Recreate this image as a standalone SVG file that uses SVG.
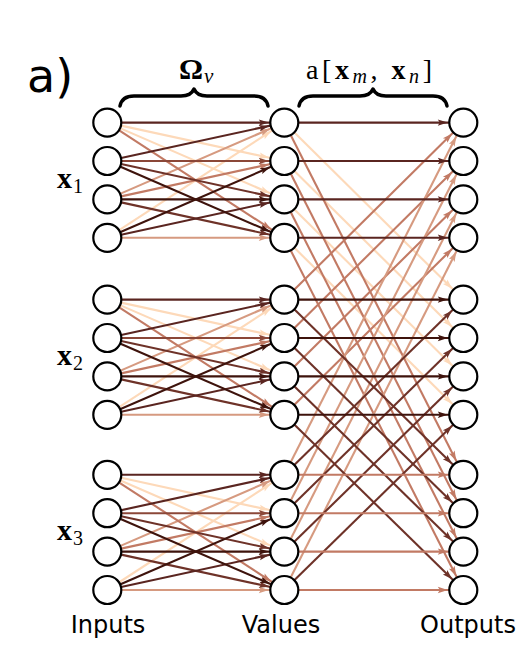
<svg xmlns="http://www.w3.org/2000/svg" width="527" height="664" viewBox="0 0 527 664">
<style>
.e{stroke-width:2.1;fill:none}
.c1{stroke:#3e130c;marker-end:url(#m1)}
.c2{stroke:#5a2520;marker-end:url(#m2)}
.c3{stroke:#6e3228;marker-end:url(#m3)}
.c4{stroke:#8b4738;marker-end:url(#m4)}
.c5{stroke:#c27a64;marker-end:url(#m5)}
.c6{stroke:#d69a80;marker-end:url(#m6)}
.c7{stroke:#fdd9b9;marker-end:url(#m7)}
.n{fill:#fff;stroke:#000;stroke-width:2.2}
.m{font-family:"Liberation Serif","DejaVu Serif",serif;fill:#000}
.s{font-family:"DejaVu Sans","Liberation Sans",sans-serif;fill:#000}
.br{fill:none;stroke:#000;stroke-width:3.5;stroke-linecap:round;stroke-linejoin:round}
</style>
<defs>
<marker id="m1" markerUnits="userSpaceOnUse" markerWidth="11" markerHeight="8" refX="25.5" refY="3.5" orient="auto" overflow="visible"><path d="M0,0.3 L10,3.5 L0,6.7 L2,3.5 z" fill="#3e130c"/></marker>
<marker id="m2" markerUnits="userSpaceOnUse" markerWidth="11" markerHeight="8" refX="25.5" refY="3.5" orient="auto" overflow="visible"><path d="M0,0.3 L10,3.5 L0,6.7 L2,3.5 z" fill="#5a2520"/></marker>
<marker id="m3" markerUnits="userSpaceOnUse" markerWidth="11" markerHeight="8" refX="25.5" refY="3.5" orient="auto" overflow="visible"><path d="M0,0.3 L10,3.5 L0,6.7 L2,3.5 z" fill="#6e3228"/></marker>
<marker id="m4" markerUnits="userSpaceOnUse" markerWidth="11" markerHeight="8" refX="25.5" refY="3.5" orient="auto" overflow="visible"><path d="M0,0.3 L10,3.5 L0,6.7 L2,3.5 z" fill="#8b4738"/></marker>
<marker id="m5" markerUnits="userSpaceOnUse" markerWidth="11" markerHeight="8" refX="25.5" refY="3.5" orient="auto" overflow="visible"><path d="M0,0.3 L10,3.5 L0,6.7 L2,3.5 z" fill="#c27a64"/></marker>
<marker id="m6" markerUnits="userSpaceOnUse" markerWidth="11" markerHeight="8" refX="25.5" refY="3.5" orient="auto" overflow="visible"><path d="M0,0.3 L10,3.5 L0,6.7 L2,3.5 z" fill="#d69a80"/></marker>
<marker id="m7" markerUnits="userSpaceOnUse" markerWidth="11" markerHeight="8" refX="25.5" refY="3.5" orient="auto" overflow="visible"><path d="M0,0.3 L10,3.5 L0,6.7 L2,3.5 z" fill="#fdd9b9"/></marker>
</defs>

<g id="connectors">
<g id="attention">
<line class="e c7" x1="284.3" y1="122.6" x2="463.3" y2="299.6"/>
<line class="e c7" x1="284.3" y1="161" x2="463.3" y2="338"/>
<line class="e c7" x1="284.3" y1="199.4" x2="463.3" y2="376.4"/>
<line class="e c7" x1="284.3" y1="237.8" x2="463.3" y2="414.8"/>
<line class="e c5" x1="284.3" y1="122.6" x2="463.3" y2="474.8"/>
<line class="e c5" x1="284.3" y1="161" x2="463.3" y2="513.2"/>
<line class="e c5" x1="284.3" y1="199.4" x2="463.3" y2="551.6"/>
<line class="e c5" x1="284.3" y1="237.8" x2="463.3" y2="590"/>
<line class="e c5" x1="284.3" y1="299.6" x2="463.3" y2="122.6"/>
<line class="e c5" x1="284.3" y1="338" x2="463.3" y2="161"/>
<line class="e c5" x1="284.3" y1="376.4" x2="463.3" y2="199.4"/>
<line class="e c5" x1="284.3" y1="414.8" x2="463.3" y2="237.8"/>
<line class="e c6" x1="284.3" y1="474.8" x2="463.3" y2="122.6"/>
<line class="e c6" x1="284.3" y1="513.2" x2="463.3" y2="161"/>
<line class="e c6" x1="284.3" y1="551.6" x2="463.3" y2="199.4"/>
<line class="e c6" x1="284.3" y1="590" x2="463.3" y2="237.8"/>
<line class="e c3" x1="284.3" y1="299.6" x2="463.3" y2="474.8"/>
<line class="e c3" x1="284.3" y1="338" x2="463.3" y2="513.2"/>
<line class="e c3" x1="284.3" y1="376.4" x2="463.3" y2="551.6"/>
<line class="e c3" x1="284.3" y1="414.8" x2="463.3" y2="590"/>
<line class="e c3" x1="284.3" y1="474.8" x2="463.3" y2="299.6"/>
<line class="e c3" x1="284.3" y1="513.2" x2="463.3" y2="338"/>
<line class="e c3" x1="284.3" y1="551.6" x2="463.3" y2="376.4"/>
<line class="e c3" x1="284.3" y1="590" x2="463.3" y2="414.8"/>
<line class="e c2" x1="284.3" y1="122.6" x2="463.3" y2="122.6"/>
<line class="e c2" x1="284.3" y1="161" x2="463.3" y2="161"/>
<line class="e c2" x1="284.3" y1="199.4" x2="463.3" y2="199.4"/>
<line class="e c2" x1="284.3" y1="237.8" x2="463.3" y2="237.8"/>
<line class="e c1" x1="284.3" y1="299.6" x2="463.3" y2="299.6"/>
<line class="e c1" x1="284.3" y1="338" x2="463.3" y2="338"/>
<line class="e c1" x1="284.3" y1="376.4" x2="463.3" y2="376.4"/>
<line class="e c1" x1="284.3" y1="414.8" x2="463.3" y2="414.8"/>
<line class="e c5" x1="284.3" y1="474.8" x2="463.3" y2="474.8"/>
<line class="e c5" x1="284.3" y1="513.2" x2="463.3" y2="513.2"/>
<line class="e c5" x1="284.3" y1="551.6" x2="463.3" y2="551.6"/>
<line class="e c5" x1="284.3" y1="590" x2="463.3" y2="590"/>
</g>
<g id="omega1">
<line class="e c7" x1="107.3" y1="122.6" x2="284.3" y2="161"/>
<line class="e c7" x1="107.3" y1="122.6" x2="284.3" y2="199.4"/>
<line class="e c7" x1="107.3" y1="237.8" x2="284.3" y2="122.6"/>
<line class="e c6" x1="107.3" y1="199.4" x2="284.3" y2="122.6"/>
<line class="e c6" x1="107.3" y1="237.8" x2="284.3" y2="237.8"/>
<line class="e c5" x1="107.3" y1="122.6" x2="284.3" y2="237.8"/>
<line class="e c5" x1="107.3" y1="199.4" x2="284.3" y2="161"/>
<line class="e c4" x1="107.3" y1="161" x2="284.3" y2="161"/>
<line class="e c3" x1="107.3" y1="161" x2="284.3" y2="199.4"/>
<line class="e c3" x1="107.3" y1="199.4" x2="284.3" y2="237.8"/>
<line class="e c2" x1="107.3" y1="122.6" x2="284.3" y2="122.6"/>
<line class="e c2" x1="107.3" y1="161" x2="284.3" y2="122.6"/>
<line class="e c2" x1="107.3" y1="237.8" x2="284.3" y2="199.4"/>
<line class="e c1" x1="107.3" y1="161" x2="284.3" y2="237.8"/>
<line class="e c1" x1="107.3" y1="199.4" x2="284.3" y2="199.4"/>
<line class="e c1" x1="107.3" y1="237.8" x2="284.3" y2="161"/>
</g>
<g id="omega2">
<line class="e c7" x1="107.3" y1="299.6" x2="284.3" y2="338"/>
<line class="e c7" x1="107.3" y1="299.6" x2="284.3" y2="376.4"/>
<line class="e c7" x1="107.3" y1="414.8" x2="284.3" y2="299.6"/>
<line class="e c6" x1="107.3" y1="376.4" x2="284.3" y2="299.6"/>
<line class="e c6" x1="107.3" y1="414.8" x2="284.3" y2="414.8"/>
<line class="e c5" x1="107.3" y1="299.6" x2="284.3" y2="414.8"/>
<line class="e c5" x1="107.3" y1="376.4" x2="284.3" y2="338"/>
<line class="e c4" x1="107.3" y1="338" x2="284.3" y2="338"/>
<line class="e c3" x1="107.3" y1="338" x2="284.3" y2="376.4"/>
<line class="e c3" x1="107.3" y1="376.4" x2="284.3" y2="414.8"/>
<line class="e c2" x1="107.3" y1="299.6" x2="284.3" y2="299.6"/>
<line class="e c2" x1="107.3" y1="338" x2="284.3" y2="299.6"/>
<line class="e c2" x1="107.3" y1="414.8" x2="284.3" y2="376.4"/>
<line class="e c1" x1="107.3" y1="338" x2="284.3" y2="414.8"/>
<line class="e c1" x1="107.3" y1="376.4" x2="284.3" y2="376.4"/>
<line class="e c1" x1="107.3" y1="414.8" x2="284.3" y2="338"/>
</g>
<g id="omega3">
<line class="e c7" x1="107.3" y1="474.8" x2="284.3" y2="513.2"/>
<line class="e c7" x1="107.3" y1="474.8" x2="284.3" y2="551.6"/>
<line class="e c7" x1="107.3" y1="590" x2="284.3" y2="474.8"/>
<line class="e c6" x1="107.3" y1="551.6" x2="284.3" y2="474.8"/>
<line class="e c6" x1="107.3" y1="590" x2="284.3" y2="590"/>
<line class="e c5" x1="107.3" y1="474.8" x2="284.3" y2="590"/>
<line class="e c5" x1="107.3" y1="551.6" x2="284.3" y2="513.2"/>
<line class="e c4" x1="107.3" y1="513.2" x2="284.3" y2="513.2"/>
<line class="e c3" x1="107.3" y1="513.2" x2="284.3" y2="551.6"/>
<line class="e c3" x1="107.3" y1="551.6" x2="284.3" y2="590"/>
<line class="e c2" x1="107.3" y1="474.8" x2="284.3" y2="474.8"/>
<line class="e c2" x1="107.3" y1="513.2" x2="284.3" y2="474.8"/>
<line class="e c2" x1="107.3" y1="590" x2="284.3" y2="551.6"/>
<line class="e c1" x1="107.3" y1="513.2" x2="284.3" y2="590"/>
<line class="e c1" x1="107.3" y1="551.6" x2="284.3" y2="551.6"/>
<line class="e c1" x1="107.3" y1="590" x2="284.3" y2="513.2"/>
</g>
</g>

<g id="braces">
<path class="br" d="M120,106 Q122,96 134,96 L181,96 Q191,96 194,89 Q197,96 207,96 L254,96 Q266,96 268,106"/>
<path class="br" d="M299,106 Q301,96 313,96 L360,96 Q370,96 373,89 Q376,96 386,96 L433,96 Q445,96 447,106"/>
</g>

<g id="inputs">
<g id="in1"><circle class="n" cx="107.3" cy="122.6" r="14"/></g>
<g id="in2"><circle class="n" cx="107.3" cy="161" r="14"/></g>
<g id="in3"><circle class="n" cx="107.3" cy="199.4" r="14"/></g>
<g id="in4"><circle class="n" cx="107.3" cy="237.8" r="14"/></g>
<g id="in5"><circle class="n" cx="107.3" cy="299.6" r="14"/></g>
<g id="in6"><circle class="n" cx="107.3" cy="338" r="14"/></g>
<g id="in7"><circle class="n" cx="107.3" cy="376.4" r="14"/></g>
<g id="in8"><circle class="n" cx="107.3" cy="414.8" r="14"/></g>
<g id="in9"><circle class="n" cx="107.3" cy="474.8" r="14"/></g>
<g id="in10"><circle class="n" cx="107.3" cy="513.2" r="14"/></g>
<g id="in11"><circle class="n" cx="107.3" cy="551.6" r="14"/></g>
<g id="in12"><circle class="n" cx="107.3" cy="590" r="14"/></g>
</g>
<g id="values">
<g id="v1"><circle class="n" cx="284.3" cy="122.6" r="14"/></g>
<g id="v2"><circle class="n" cx="284.3" cy="161" r="14"/></g>
<g id="v3"><circle class="n" cx="284.3" cy="199.4" r="14"/></g>
<g id="v4"><circle class="n" cx="284.3" cy="237.8" r="14"/></g>
<g id="v5"><circle class="n" cx="284.3" cy="299.6" r="14"/></g>
<g id="v6"><circle class="n" cx="284.3" cy="338" r="14"/></g>
<g id="v7"><circle class="n" cx="284.3" cy="376.4" r="14"/></g>
<g id="v8"><circle class="n" cx="284.3" cy="414.8" r="14"/></g>
<g id="v9"><circle class="n" cx="284.3" cy="474.8" r="14"/></g>
<g id="v10"><circle class="n" cx="284.3" cy="513.2" r="14"/></g>
<g id="v11"><circle class="n" cx="284.3" cy="551.6" r="14"/></g>
<g id="v12"><circle class="n" cx="284.3" cy="590" r="14"/></g>
</g>
<g id="outputs">
<g id="o1"><circle class="n" cx="463.3" cy="122.6" r="14"/></g>
<g id="o2"><circle class="n" cx="463.3" cy="161" r="14"/></g>
<g id="o3"><circle class="n" cx="463.3" cy="199.4" r="14"/></g>
<g id="o4"><circle class="n" cx="463.3" cy="237.8" r="14"/></g>
<g id="o5"><circle class="n" cx="463.3" cy="299.6" r="14"/></g>
<g id="o6"><circle class="n" cx="463.3" cy="338" r="14"/></g>
<g id="o7"><circle class="n" cx="463.3" cy="376.4" r="14"/></g>
<g id="o8"><circle class="n" cx="463.3" cy="414.8" r="14"/></g>
<g id="o9"><circle class="n" cx="463.3" cy="474.8" r="14"/></g>
<g id="o10"><circle class="n" cx="463.3" cy="513.2" r="14"/></g>
<g id="o11"><circle class="n" cx="463.3" cy="551.6" r="14"/></g>
<g id="o12"><circle class="n" cx="463.3" cy="590" r="14"/></g>
</g>

<g id="labels">
<text class="s" x="27" y="92" font-size="46">a)</text>
<text class="m" x="179" y="79" font-size="30"><tspan font-weight="bold">Ω</tspan><tspan font-style="italic" font-size="21" dx="1" dy="4">v</tspan></text>
<text class="m" x="306" y="79" font-size="28" textLength="126" lengthAdjust="spacing">a[<tspan font-weight="bold">x</tspan><tspan font-style="italic" font-size="20" dy="4">m</tspan><tspan dy="-4">, </tspan><tspan font-weight="bold">x</tspan><tspan font-style="italic" font-size="20" dy="4">n</tspan><tspan dy="-4">]</tspan></text>
<text class="m" x="57" y="188" font-size="30"><tspan font-weight="bold">x</tspan><tspan font-size="20" dx="1" dy="5">1</tspan></text>
<text class="m" x="57" y="365" font-size="30"><tspan font-weight="bold">x</tspan><tspan font-size="20" dx="1" dy="5">2</tspan></text>
<text class="m" x="57" y="540" font-size="30"><tspan font-weight="bold">x</tspan><tspan font-size="20" dx="1" dy="5">3</tspan></text>
<text class="s" x="108" y="633" font-size="24" text-anchor="middle">Inputs</text>
<text class="s" x="281" y="633" font-size="24" text-anchor="middle">Values</text>
<text class="s" x="468" y="633" font-size="24" text-anchor="middle">Outputs</text>
</g>
</svg>
